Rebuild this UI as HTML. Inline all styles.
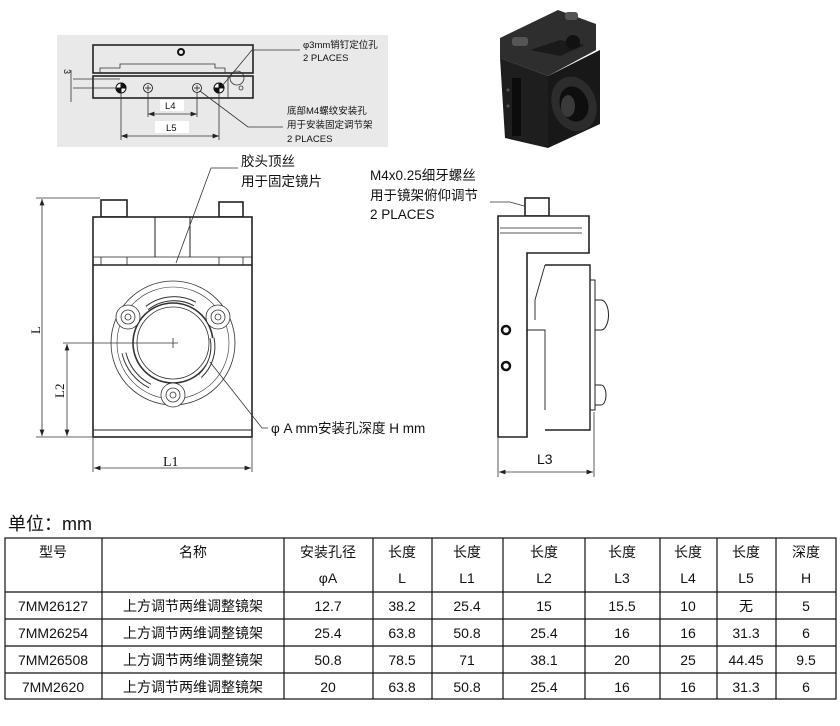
<!DOCTYPE html>
<html><head><meta charset="utf-8"><style>
html,body{margin:0;padding:0;background:#fff;}
svg{display:block;}
text{font-family:"Liberation Sans","Noto Sans CJK SC",sans-serif;fill:#111;}
.ln{stroke:#222;fill:none;stroke-width:1.6}
.th{stroke:#333;fill:none;stroke-width:0.8}
</style></head><body>
<svg width="840" height="726" viewBox="0 0 840 726" xmlns="http://www.w3.org/2000/svg">
<defs>
<marker id="ar" markerWidth="8" markerHeight="6" refX="8" refY="3" orient="auto-start-reverse"><path d="M0,0 L8,3 L0,6 z" fill="#222"/></marker>
</defs>
<!-- gray box -->
<rect x="57" y="35" width="331" height="112" fill="#e9e9e9"/>
<rect x="93" y="45" width="160" height="28" class="ln" stroke-width="1.3"/>
<circle cx="181" cy="52" r="3" fill="none" stroke="#111" stroke-width="2"/>
<path d="M100,73 V68 H120 V64 H215 V68 H225 V73" class="th"/>
<rect x="93" y="76" width="160" height="22" class="ln" stroke-width="1.2"/>
<line x1="228" y1="76" x2="228" y2="98" class="th"/>
<circle cx="237" cy="78" r="7" class="th"/>
<circle cx="241" cy="88" r="2" class="th"/>
<g stroke="#111" stroke-width="1">
<circle cx="121" cy="88" r="5" fill="#fff"/><path d="M121,83 A5,5 0 0 1 126,88 H121Z M121,93 A5,5 0 0 1 116,88 H121Z" fill="#111"/>
<circle cx="219" cy="88" r="5" fill="#fff"/><path d="M219,83 A5,5 0 0 1 224,88 H219Z M219,93 A5,5 0 0 1 214,88 H219Z" fill="#111"/>
<circle cx="148" cy="88" r="4.5" fill="none" stroke-width="0.8"/><path d="M145,88h6M148,85v6" stroke-width="0.7"/>
<circle cx="197" cy="88" r="4.5" fill="none" stroke-width="0.8"/><path d="M194,88h6M197,85v6" stroke-width="0.7"/>
</g>
<g class="th">
<line x1="73" y1="79" x2="120" y2="79"/><line x1="73" y1="88" x2="120" y2="88"/>
<line x1="71" y1="70" x2="71" y2="102"/>
<line x1="148" y1="93" x2="148" y2="117"/><line x1="197" y1="93" x2="197" y2="117"/>
<line x1="121" y1="93" x2="121" y2="140"/><line x1="219" y1="93" x2="219" y2="140"/>
<line x1="148" y1="114" x2="197" y2="114" marker-start="url(#ar)" marker-end="url(#ar)"/>
<line x1="121" y1="136" x2="219" y2="136" marker-start="url(#ar)" marker-end="url(#ar)"/>
<polyline points="222,86 252,50 300,50"/>
<polyline points="200,91 248,127 283,127"/>
</g>
<text x="64" y="69" font-size="9" transform="rotate(90 64 69)">3</text>
<rect x="160" y="100" width="24" height="11" fill="#fff"/><text x="165" y="109" font-size="9.5">L4</text>
<rect x="155" y="121" width="34" height="12" fill="#fff"/><text x="166" y="131" font-size="9.5">L5</text>
<text x="303" y="48" font-size="9.5">φ3mm销钉定位孔</text>
<text x="303" y="61" font-size="9.5">2 PLACES</text>
<text x="287" y="114" font-size="9.5">底部M4螺纹安装孔</text>
<text x="287" y="128" font-size="9.5">用于安装固定调节架</text>
<text x="287" y="142" font-size="9.5">2 PLACES</text>

<!-- photo -->
<g>
<polygon points="500,38 558,10 596,24 596,50 548,76 500,58" fill="#2e2e2e"/>
<polygon points="500,58 548,76 548,148 505,138" fill="#1e1e1e"/>
<polygon points="548,76 600,50 600,124 548,148" fill="#181818"/>
<polygon points="530,50 560,40 585,45 560,56" fill="#1a1a1a"/>
<circle cx="573" cy="42" r="7" fill="#111"/>
<rect x="512" y="37" width="16" height="9" rx="3" fill="#555"/>
<rect x="565" y="12" width="13" height="8" rx="3" fill="#555"/>
<ellipse cx="574" cy="104" rx="22" ry="28" fill="#2c2c2c" transform="rotate(-20 574 104)"/>
<ellipse cx="574" cy="104" rx="14" ry="18" fill="#0e0e0e" transform="rotate(-20 574 104)"/>
<ellipse cx="568" cy="106" rx="7" ry="11" fill="#3a3a3a"/>
<rect x="512" y="78" width="9" height="58" fill="#0c0c0c"/>
<circle cx="508" cy="90" r="1.5" fill="#555"/><circle cx="508" cy="106" r="1.5" fill="#555"/>
</g>

<!-- front view -->
<g class="ln">
<rect x="101" y="200" width="26" height="17" fill="#fff"/>
<rect x="219" y="202" width="24" height="15" fill="#fff"/>
<rect x="93" y="217" width="159" height="220" fill="#fff"/>
<line x1="93" y1="265" x2="252" y2="265"/>
<line x1="93" y1="257" x2="252" y2="257" stroke-width="0.8"/>
<line x1="155" y1="217" x2="155" y2="257" stroke-width="1"/>
<line x1="190" y1="217" x2="190" y2="257" stroke-width="1"/>
<line x1="93" y1="430" x2="252" y2="430" stroke-width="1"/>
<line x1="101" y1="257" x2="101" y2="265" stroke-width="0.8"/><line x1="127" y1="257" x2="127" y2="265" stroke-width="0.8"/>
<line x1="219" y1="257" x2="219" y2="265" stroke-width="0.8"/><line x1="243" y1="257" x2="243" y2="265" stroke-width="0.8"/>
</g>
<g class="th" stroke-width="1.2">
<circle cx="173" cy="343" r="62"/>
<circle cx="173" cy="343" r="56" stroke-width="0.6"/>
<circle cx="173" cy="343" r="40" stroke-width="1.6"/>
<circle cx="173" cy="343" r="36"/>
<path d="M147,308 A44,44 0 0 1 195,304" stroke-width="5" stroke="#333"/>
<path d="M147,308 A44,44 0 0 1 195,304" stroke-width="3" stroke="#fff"/>
<path d="M124,353 A49,49 0 0 0 150,386" stroke-width="5" stroke="#333"/>
<path d="M124,353 A49,49 0 0 0 150,386" stroke-width="3" stroke="#fff"/>
<path d="M212,338 A40,40 0 0 1 200,376" stroke-width="5" stroke="#333"/>
<path d="M212,338 A40,40 0 0 1 200,376" stroke-width="3" stroke="#fff"/>
<circle cx="128" cy="317" r="12" fill="#fff"/><circle cx="128" cy="317" r="7"/><circle cx="128" cy="317" r="3"/>
<circle cx="218" cy="317" r="12" fill="#fff"/><circle cx="218" cy="317" r="7"/><circle cx="218" cy="317" r="3"/>
<circle cx="173" cy="395" r="12" fill="#fff"/><circle cx="173" cy="395" r="7"/><circle cx="173" cy="395" r="3"/>
<path d="M168,343h10M173,338v10"/>
</g>
<g class="th">
<line x1="36" y1="198" x2="100" y2="198"/><line x1="36" y1="437" x2="92" y2="437"/>
<line x1="42" y1="199" x2="42" y2="436" marker-start="url(#ar)" marker-end="url(#ar)"/>
<line x1="63" y1="343" x2="168" y2="343"/>
<line x1="67" y1="344" x2="67" y2="436" marker-start="url(#ar)" marker-end="url(#ar)"/>
<line x1="93" y1="438" x2="93" y2="472"/><line x1="252" y1="438" x2="252" y2="472"/>
<line x1="94" y1="468" x2="251" y2="468" marker-start="url(#ar)" marker-end="url(#ar)"/>
<polyline points="176,263 211,168 238,168"/>
<polyline points="210,362 262,428 268,428"/>
</g>
<text x="40" y="334" font-size="13" transform="rotate(-90 40 334)" style="font-family:'Liberation Serif',serif">L</text>
<text x="64" y="398" font-size="13" transform="rotate(-90 64 398)" style="font-family:'Liberation Serif',serif">L2</text>
<text x="163" y="466" font-size="14" style="font-family:'Liberation Serif',serif">L1</text>
<text x="241" y="166" font-size="13.5">胶头顶丝</text>
<text x="241" y="186" font-size="13.5">用于固定镜片</text>
<text x="271" y="433" font-size="13.5">φ A mm安装孔深度 H mm</text>

<!-- side view -->
<g class="ln">
<rect x="525" y="198" width="24" height="18" fill="#fff"/>
<path d="M498,216 H589 V253 H527 V437 H498 Z" fill="#fff"/>
<line x1="500" y1="228" x2="582" y2="228" stroke-width="0.8"/>
<line x1="500" y1="233" x2="582" y2="233" stroke-width="0.8"/>
<path d="M545,265 H590 V430 H545" stroke-width="1.4"/>
<path d="M545,265 L535,300 V320 M527,330 H545 V410" stroke-width="0.9"/>
<path d="M590,280 H595 V410 H590" stroke-width="1"/>
<path d="M595,300 h6 a4,8 0 0 1 0,30 h-6" stroke-width="1"/>
<path d="M595,385 h6 a4,8 0 0 1 0,20 h-6" stroke-width="1"/>
</g>
<circle cx="506" cy="330" r="4" fill="none" stroke="#111" stroke-width="2.5"/>
<circle cx="506" cy="366" r="4" fill="none" stroke="#111" stroke-width="2.5"/>
<g class="th">
<line x1="498" y1="438" x2="498" y2="477"/><line x1="594" y1="412" x2="594" y2="477"/>
<line x1="499" y1="472" x2="593" y2="472" marker-start="url(#ar)" marker-end="url(#ar)"/>
<polyline points="490,202 510,202 524,206"/>
</g>
<text x="537" y="464" font-size="14">L3</text>
<text x="370" y="180" font-size="13.5">M4x0.25细牙螺丝</text>
<text x="370" y="200" font-size="13.5">用于镜架俯仰调节</text>
<text x="370" y="219" font-size="13.5">2 PLACES</text>

<!-- table -->
<text x="8" y="530" font-size="18">单位：mm</text>
<g stroke="#111" stroke-width="1.2">
<rect x="5" y="538" width="831" height="161" fill="none"/>
<line x1="5" y1="592" x2="836" y2="592"/>
<line x1="5" y1="619" x2="836" y2="619"/>
<line x1="5" y1="646" x2="836" y2="646"/>
<line x1="5" y1="673" x2="836" y2="673"/>
<line x1="102" y1="538" x2="102" y2="699"/>
<line x1="284" y1="538" x2="284" y2="699"/>
<line x1="373" y1="538" x2="373" y2="699"/>
<line x1="432" y1="538" x2="432" y2="699"/>
<line x1="503" y1="538" x2="503" y2="699"/>
<line x1="585" y1="538" x2="585" y2="699"/>
<line x1="660" y1="538" x2="660" y2="699"/>
<line x1="717" y1="538" x2="717" y2="699"/>
<line x1="776" y1="538" x2="776" y2="699"/>
</g>
<g font-size="14" text-anchor="middle">
<text x="53" y="557">型号</text><text x="193" y="557">名称</text><text x="328" y="557">安装孔径</text>
<text x="402" y="557">长度</text><text x="467" y="557">长度</text><text x="544" y="557">长度</text>
<text x="622" y="557">长度</text><text x="688" y="557">长度</text><text x="746" y="557">长度</text><text x="806" y="557">深度</text>
<text x="328" y="583">φA</text><text x="402" y="583">L</text><text x="467" y="583">L1</text><text x="544" y="583">L2</text>
<text x="622" y="583">L3</text><text x="688" y="583">L4</text><text x="746" y="583">L5</text><text x="806" y="583">H</text>
<text x="53" y="611">7MM26127</text><text x="193" y="611">上方调节两维调整镜架</text><text x="328" y="611">12.7</text><text x="402" y="611">38.2</text><text x="467" y="611">25.4</text><text x="544" y="611">15</text><text x="622" y="611">15.5</text><text x="688" y="611">10</text><text x="746" y="611">无</text><text x="806" y="611">5</text>
<text x="53" y="638">7MM26254</text><text x="193" y="638">上方调节两维调整镜架</text><text x="328" y="638">25.4</text><text x="402" y="638">63.8</text><text x="467" y="638">50.8</text><text x="544" y="638">25.4</text><text x="622" y="638">16</text><text x="688" y="638">16</text><text x="746" y="638">31.3</text><text x="806" y="638">6</text>
<text x="53" y="665">7MM26508</text><text x="193" y="665">上方调节两维调整镜架</text><text x="328" y="665">50.8</text><text x="402" y="665">78.5</text><text x="467" y="665">71</text><text x="544" y="665">38.1</text><text x="622" y="665">20</text><text x="688" y="665">25</text><text x="746" y="665">44.45</text><text x="806" y="665">9.5</text>
<text x="53" y="692">7MM2620</text><text x="193" y="692">上方调节两维调整镜架</text><text x="328" y="692">20</text><text x="402" y="692">63.8</text><text x="467" y="692">50.8</text><text x="544" y="692">25.4</text><text x="622" y="692">16</text><text x="688" y="692">16</text><text x="746" y="692">31.3</text><text x="806" y="692">6</text>
</g>
</svg>
</body></html>
